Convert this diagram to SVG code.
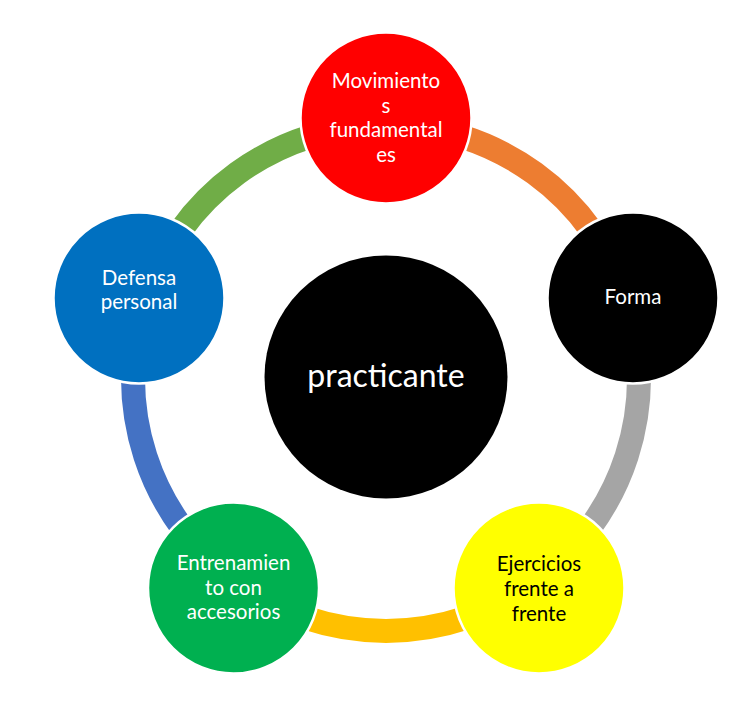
<svg xmlns="http://www.w3.org/2000/svg" width="747" height="715" viewBox="0 0 747 715">
  <style>
    .arc { fill: none; stroke-width: 24; }
    .node { stroke: #FFFFFF; stroke-width: 2.5; }
    .lbl { font-family: Lato, "Open Sans", "Liberation Sans", sans-serif; font-size: 20.5px; text-anchor: middle; }
    .w { fill: #FFFFFF; }
    .k { fill: #000000; }
    .center { font-family: Lato, "Open Sans", "Liberation Sans", sans-serif; font-size: 32px; text-anchor: middle; fill: #FFFFFF; }
  </style>
  <rect width="747" height="715" fill="#FFFFFF"/>
  <g id="connectors">
    <path class="arc" stroke="#ED7D31" d="M386 125 A253 253 0 0 1 626.62 299.82"/>
    <path class="arc" stroke="#A5A5A5" d="M626.62 299.82 A253 253 0 0 1 534.71 582.68"/>
    <path class="arc" stroke="#FFC000" d="M534.71 582.68 A253 253 0 0 1 237.29 582.68"/>
    <path class="arc" stroke="#4472C4" d="M237.29 582.68 A253 253 0 0 1 145.38 299.82"/>
    <path class="arc" stroke="#70AD47" d="M145.38 299.82 A253 253 0 0 1 386 125"/>
  </g>
  <g id="node-practicante">
    <circle cx="386" cy="377" r="121.5" fill="#000000"/>
    <text class="center" x="386" y="387">practicante</text>
  </g>
  <g id="node-movimientos">
    <circle class="node" cx="386" cy="118" r="85.5" fill="#FF0000"/>
    <text class="lbl w" x="386" y="88">Movimiento</text>
    <text class="lbl w" x="386" y="113">s</text>
    <text class="lbl w" x="386" y="137">fundamental</text>
    <text class="lbl w" x="386" y="162">es</text>
  </g>
  <g id="node-forma">
    <circle class="node" cx="633" cy="298" r="85.5" fill="#000000"/>
    <text class="lbl w" x="633" y="304">Forma</text>
  </g>
  <g id="node-ejercicios">
    <circle class="node" cx="539" cy="588" r="85.5" fill="#FFFF00"/>
    <text class="lbl k" x="539" y="571">Ejercicios</text>
    <text class="lbl k" x="539" y="596">frente a</text>
    <text class="lbl k" x="539" y="621">frente</text>
  </g>
  <g id="node-entrenamiento">
    <circle class="node" cx="233.5" cy="588" r="85.5" fill="#00B050"/>
    <text class="lbl w" x="233.5" y="570">Entrenamien</text>
    <text class="lbl w" x="233.5" y="595">to con</text>
    <text class="lbl w" x="233.5" y="619">accesorios</text>
  </g>
  <g id="node-defensa">
    <circle class="node" cx="139" cy="298" r="85.5" fill="#0070C0"/>
    <text class="lbl w" x="139" y="285">Defensa</text>
    <text class="lbl w" x="139" y="309">personal</text>
  </g>
</svg>
